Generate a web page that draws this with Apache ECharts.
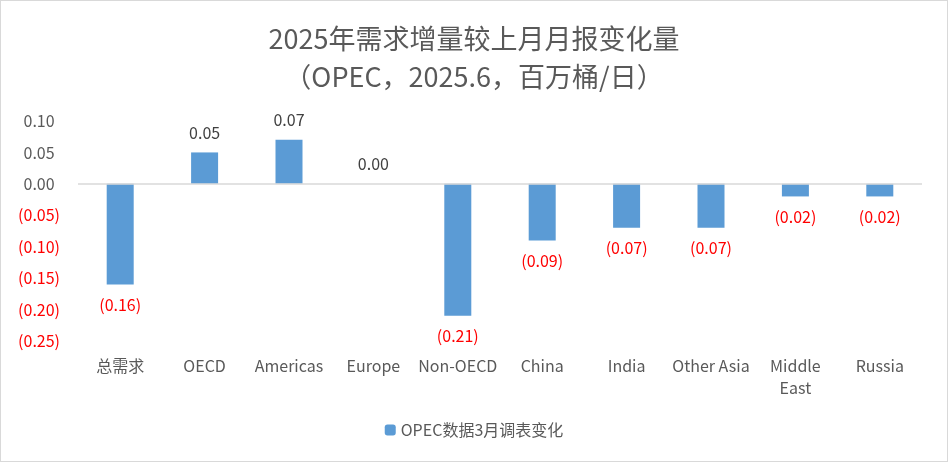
<!DOCTYPE html>
<html>
<head>
<meta charset="utf-8">
<script src="https://cdn.jsdelivr.net/npm/echarts@6/dist/echarts.min.js"></script>
<style>
html,body{margin:0;padding:0;background:#fff;}
#c{width:946px;height:460px;border:1px solid #d9d9d9;}
</style>
</head>
<body>
<div id="c"></div>
<script>
var categories = ['总需求','OECD','Americas','Europe','Non-OECD','China','India','Other Asia','Middle\nEast','Russia'];
var values = [-0.16, 0.05, 0.07, 0.00, -0.21, -0.09, -0.07, -0.07, -0.02, -0.02];
var seriesName = 'OPEC数据3月调表变化';
var titleText = '2025年需求增量较上月月报变化量\n（OPEC，2025.6，百万桶/日）';

var FONT = '"Noto Sans CJK SC","Noto Sans",sans-serif';
function fmt(v){
  if (v < 0) return '{r|(' + Math.abs(v).toFixed(2) + ')}';
  return '{p|' + v.toFixed(2) + '}{h|)}';
}
var labelRich = {r:{color:'#ff0000',fontFamily:FONT,fontSize:16},p:{color:'#404040',fontFamily:FONT,fontSize:16}};
var barData = values.map(function(v){
  return v<0 ? {value:v,label:{position:'bottom'}} : {value:v};
});
var chart = echarts.init(document.getElementById('c'));
chart.setOption({
  animation:false,
  title:{text:titleText,left:'center',top:14,
    textStyle:{fontFamily:FONT,fontSize:27,fontWeight:'normal',color:'#595959',lineHeight:38}},
  legend:{bottom:18,left:'center',itemWidth:11,itemHeight:11,
    textStyle:{fontFamily:FONT,fontSize:16,color:'#595959'},data:[seriesName]},
  grid:{left:77,right:25,top:120,bottom:120},
  xAxis:{type:'category',data:categories,
    axisLine:{show:false,onZero:false},axisTick:{show:false},
    axisLabel:{fontFamily:FONT,fontSize:16,color:'#595959',margin:14,interval:0,lineHeight:22}},
  yAxis:{type:'value',min:-0.25,max:0.10,interval:0.05,
    splitLine:{show:false},axisLine:{show:false},axisTick:{show:false},
    axisLabel:{margin:18,formatter:function(v){return fmt(Math.round(v*100)/100);},
      rich:{r:{color:'#ff0000',fontFamily:FONT,fontSize:16},
            p:{color:'#595959',fontFamily:FONT,fontSize:16},
            h:{color:'rgba(0,0,0,0)',fontFamily:FONT,fontSize:16}}}},
  series:[{name:seriesName,type:'bar',data:barData,barWidth:27,
    itemStyle:{color:'#5b9bd5'},
    label:{show:true,fontFamily:FONT,fontSize:16,distance:12,
      position:'top',
      formatter:function(p){return p.value<0?'{r|('+Math.abs(p.value).toFixed(2)+')}':'{p|'+p.value.toFixed(2)+'}';},
      rich:labelRich},
    markLine:{silent:true,symbol:'none',label:{show:false},
      lineStyle:{color:'#d9d9d9',type:'solid',width:1.5},data:[{yAxis:0}]}
  }]
});
</script>
</body>
</html>
